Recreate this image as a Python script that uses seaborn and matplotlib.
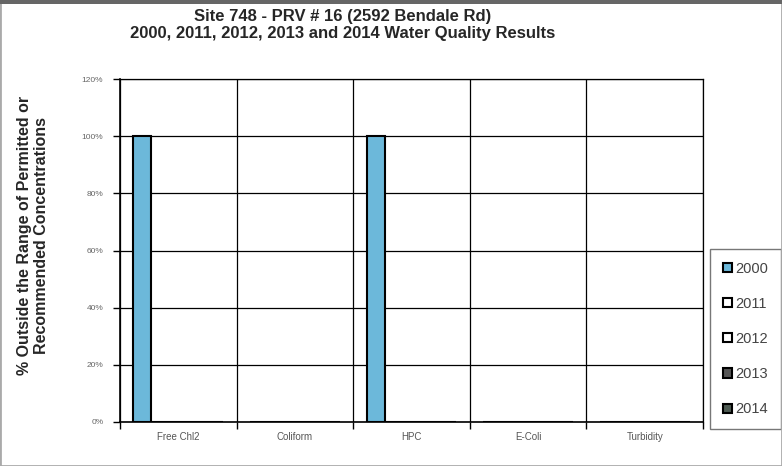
import matplotlib
matplotlib.use("Agg")
import matplotlib.pyplot as plt
import seaborn as sns
import pandas as pd
import numpy as np
from matplotlib.ticker import FixedLocator, PercentFormatter
from matplotlib.patches import Rectangle

categories = ["Free Chl2", "Coliform", "HPC", "E-Coli", "Turbidity"]
years = ["2000", "2011", "2012", "2013", "2014"]
v2000 = [100, 0, 100, 0, 0]
v2011 = [0, 0, 0, 0, 0]
v2012 = [0, 0, 0, 0, 0]
v2013 = [0, 0, 0, 0, 0]
v2014 = [0, 0, 0, 0, 0]
yticks = [0, 20, 40, 60, 80, 100, 120]
colors = ["#6cb8da", "#ffffff", "#ffffff", "#555555", "#4d5a52"]

series = [v2000, v2011, v2012, v2013, v2014]
rows = []
for y, vals in zip(years, series):
    for c, v in zip(categories, vals):
        rows.append({"Category": c, "Year": y, "Value": v})
df = pd.DataFrame(rows)

sns.set_theme(style="white")
plt.rcParams['font.family'] = ['Liberation Sans', 'DejaVu Sans']

fig = plt.figure(figsize=(7.82, 4.66), dpi=100)
ax = fig.add_axes([120/782, 1-422/466, (703-120)/782, (422-79)/466])

sns.barplot(data=df, x="Category", y="Value", hue="Year", order=categories,
            hue_order=years, palette=colors, width=0.77, edgecolor="black",
            linewidth=1.5, ax=ax, legend=True, saturation=1)

ax.set_ylim(0, 120)
ax.set_xlim(-0.5, 4.5)
ax.yaxis.set_major_locator(FixedLocator(yticks))
ax.yaxis.set_major_formatter(PercentFormatter(decimals=0))
ax.xaxis.set_minor_locator(FixedLocator(np.arange(-0.5, 5, 1)))
ax.grid(True, axis="y", which="major", color="black", linewidth=0.9)
ax.grid(True, axis="x", which="minor", color="black", linewidth=0.9)
ax.set_axisbelow(True)
for s in ["left", "bottom"]:
    ax.spines[s].set_color("black")
    ax.spines[s].set_linewidth(1.2)
ax.spines["right"].set_color("black")
ax.spines["right"].set_linewidth(0.9)
ax.spines["top"].set_color("black")
ax.spines["top"].set_linewidth(0.9)
ax.tick_params(axis="x", which="major", length=0, labelsize=7, labelcolor="#555555", pad=7)
ax.tick_params(axis="x", which="minor", length=5, width=1, color="black", direction="out", bottom=True)
ax.tick_params(axis="y", which="major", length=5, width=1, color="black", direction="out",
               left=True, labelsize=6, labelcolor="#666666", pad=7)
ax.set_xlabel("")
ax.set_ylabel("% Outside the Range of Permitted or\nRecommended Concentrations",
              fontsize=11.5, fontweight="bold", linespacing=1.15)
ax.yaxis.set_label_coords(-0.122, 0.545)

fig.text(343/782, 1-25/466, "Site 748 - PRV # 16 (2592 Bendale Rd)\n2000, 2011, 2012, 2013 and 2014 Water Quality Results",
         ha="center", va="center", fontsize=12, fontweight="bold", linespacing=1.2)

handles, labels = ax.get_legend_handles_labels()
leg = ax.legend(handles, labels, loc="center left", bbox_to_anchor=(710/782, 1-339/466),
                bbox_transform=fig.transFigure, frameon=True, fontsize=10.5,
                handlelength=0.6, handleheight=0.6, handletextpad=0.2, labelspacing=1.45,
                borderpad=0.9, fancybox=False, borderaxespad=0)
leg.get_frame().set_edgecolor("#555555")
leg.get_frame().set_linewidth(1.0)
for t in leg.get_texts():
    t.set_color("#444444")

fig.patches.append(Rectangle((0, 0), 1, 1, transform=fig.transFigure, fill=False,
                             edgecolor="#aaaaaa", linewidth=2))
fig.patches.append(Rectangle((0, 1-4/466), 1, 4/466, transform=fig.transFigure,
                             facecolor="#666666", edgecolor="none"))

fig.savefig("out.png", dpi=100)
